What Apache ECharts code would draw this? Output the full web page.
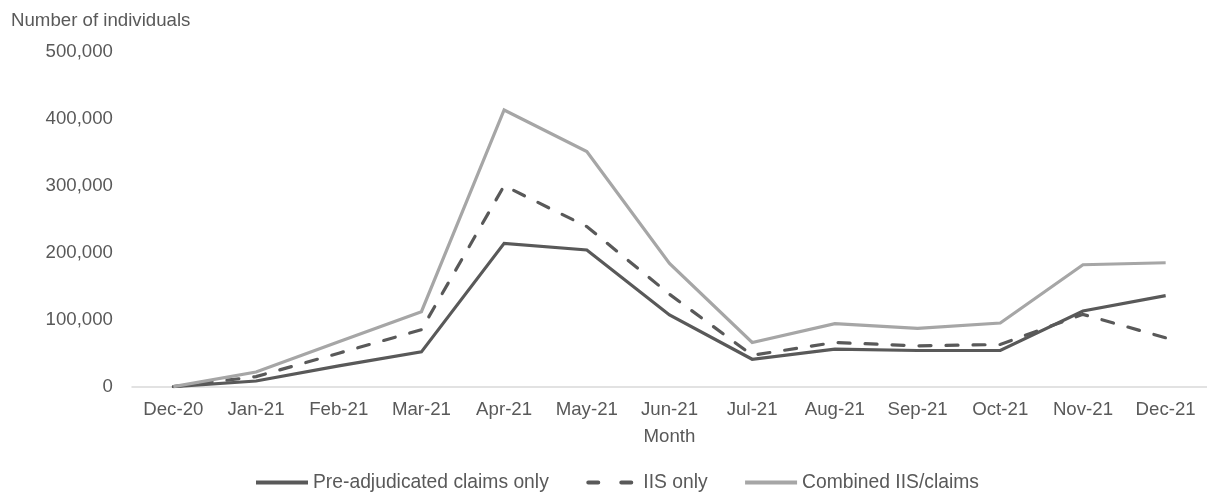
<!DOCTYPE html>
<html>
<head>
<meta charset="utf-8">
<title>Number of individuals by month</title>
<script src="https://cdn.jsdelivr.net/npm/echarts@6/dist/echarts.min.js"></script>
<style>
  html, body { margin: 0; padding: 0; background: #ffffff; }
  #chart { width: 1207px; height: 498px; }
</style>
</head>
<body>
<div id="chart"></div>
<script>
// Monthly counts, Dec 2020 – Dec 2021
const months = ['Dec-20', 'Jan-21', 'Feb-21', 'Mar-21', 'Apr-21', 'May-21', 'Jun-21',
                'Jul-21', 'Aug-21', 'Sep-21', 'Oct-21', 'Nov-21', 'Dec-21'];
const preAdjudicatedOnly = [0, 8500, 31000, 52000, 214000, 204000, 107000, 41000, 56000, 54000, 54000, 113000, 136000];
const iisOnly            = [0, 15000, 50000, 85000, 300000, 239000, 138000, 47000, 66000, 61000, 63000, 108000, 73000];
const combinedIisClaims  = [0, 22000, 67000, 112000, 413000, 351000, 184000, 66000, 94000, 87000, 95000, 182000, 185000];

const seriesNames = ['Pre-adjudicated claims only', 'IIS only', 'Combined IIS/claims'];
const yMax = 500000;
const yStep = 100000;

const FONT = '"Liberation Sans", Arial, sans-serif';
const TEXT = '#595959';
const FS = 18.67;
const LEGEND_FS = 19.3;
const DARK = '#595959';
const LIGHT = '#A6A6A6';

// legend swatches: a solid bar, and two short rounded dashes for the dashed series
const SOLID_ICON = 'path://M0,0H52V4H0Z';
const DASH_ICON = 'path://M2,0H12A2,2 0 0 1 12,4H2A2,2 0 0 1 2,0ZM35,0H45A2,2 0 0 1 45,4H35A2,2 0 0 1 35,0ZM52,1.95V2.05H51.95Z';

const chart = echarts.init(document.getElementById('chart'), null, { renderer: 'canvas' });

function lineSeries(name, data, color, dashed) {
  return {
    name: name,
    type: 'line',
    data: data,
    symbol: 'none',
    smooth: false,
    lineStyle: {
      color: color,
      width: 3.2,
      type: dashed ? [12, 15] : 'solid',
      cap: dashed ? 'round' : 'butt',
      join: 'miter'
    },
    itemStyle: { color: color }
  };
}

chart.setOption({
  animation: false,
  backgroundColor: '#ffffff',
  textStyle: { fontFamily: FONT, color: TEXT },
  title: {
    text: 'Number of individuals',
    left: 11,
    top: 11,
    padding: 0,
    textStyle: { fontFamily: FONT, fontSize: FS, fontWeight: 'normal', color: TEXT }
  },
  grid: { left: 132, right: 0, top: 51.7, height: 335, containLabel: false },
  legend: {
    left: 256,
    top: 473,
    padding: 0,
    itemWidth: 52,
    itemHeight: 4,
    itemGap: 37.5,
    textStyle: { fontFamily: FONT, fontSize: LEGEND_FS, color: TEXT },
    data: [
      { name: seriesNames[0], icon: SOLID_ICON, itemStyle: { color: DARK } },
      { name: seriesNames[1], icon: DASH_ICON, itemStyle: { color: DARK } },
      { name: seriesNames[2], icon: SOLID_ICON, itemStyle: { color: LIGHT } }
    ]
  },
  xAxis: {
    type: 'category',
    data: months,
    boundaryGap: true,
    name: 'Month',
    nameLocation: 'middle',
    nameGap: 41,
    nameTextStyle: { fontFamily: FONT, fontSize: FS, color: TEXT },
    axisLine: { show: true, lineStyle: { color: '#D9D9D9', width: 1.5 } },
    axisTick: { show: false },
    axisLabel: { fontFamily: FONT, fontSize: FS, color: TEXT, margin: 14, interval: 0 },
    splitLine: { show: false }
  },
  yAxis: {
    type: 'value',
    min: 0,
    max: yMax,
    interval: yStep,
    axisLine: { show: false },
    axisTick: { show: false },
    splitLine: { show: false },
    axisLabel: {
      fontFamily: FONT, fontSize: FS, color: TEXT, margin: 19,
      formatter: v => v.toLocaleString('en-US')
    }
  },
  series: [
    lineSeries(seriesNames[0], preAdjudicatedOnly, DARK, false),
    lineSeries(seriesNames[1], iisOnly, DARK, true),
    lineSeries(seriesNames[2], combinedIisClaims, LIGHT, false)
  ]
});
</script>
</body>
</html>
